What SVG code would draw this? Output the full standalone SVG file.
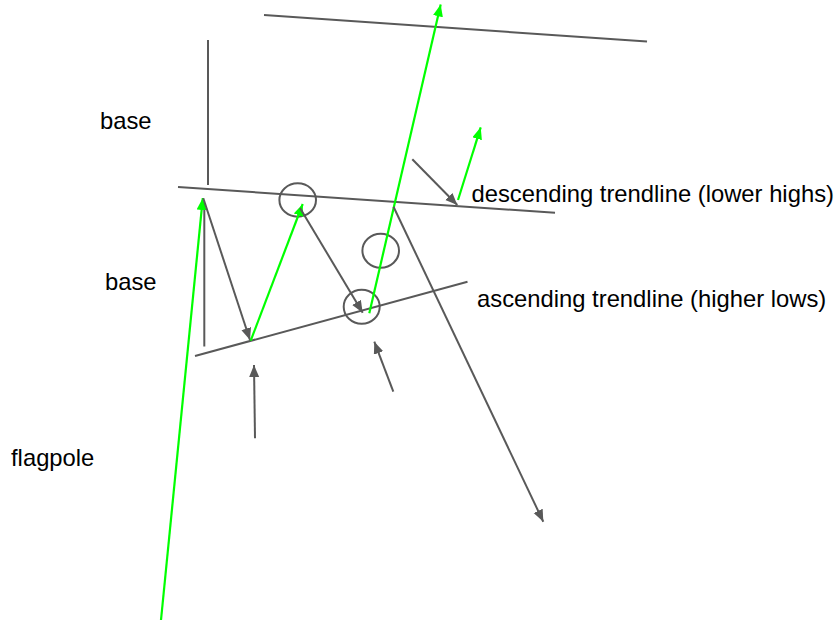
<svg xmlns="http://www.w3.org/2000/svg" width="839" height="624" viewBox="0 0 839 624">
<style>
.g{stroke:#595959;stroke-width:2;fill:none}
.gr{stroke:#00ff00;stroke-width:2.2;fill:none}
.c{stroke:#595959;stroke-width:2;fill:none}
text{font-family:"Liberation Sans",Arial,sans-serif;font-size:23.8px;fill:#000}
</style>
<defs>
<marker id="ag" markerUnits="userSpaceOnUse" markerWidth="14" markerHeight="12" refX="12" refY="5" orient="auto"><path d="M0,0 L12,5 L0,10 z" fill="#595959"/></marker>
<marker id="agr" markerUnits="userSpaceOnUse" markerWidth="14" markerHeight="12" refX="12" refY="5" orient="auto"><path d="M0,0 L12,5 L0,10 z" fill="#00ff00"/></marker>
</defs>
<rect width="839" height="624" fill="#fff"/>
<g id="lines">
<line class="g" x1="264" y1="15" x2="647" y2="41.5"/>
<line class="g" x1="208" y1="40" x2="208" y2="185"/>
<line class="g" x1="178" y1="187" x2="555" y2="212.7"/>
<line class="g" x1="204.3" y1="203" x2="204.3" y2="346.5"/>
<line class="g" x1="195" y1="356" x2="467.5" y2="281.7"/>
</g>
<g id="circles">
<ellipse class="c" cx="297.7" cy="200" rx="18.3" ry="16.7"/>
<ellipse class="c" cx="380.7" cy="250.7" rx="18.3" ry="17"/>
<ellipse class="c" cx="361.7" cy="306.7" rx="18" ry="17"/>
</g>
<g id="connectors">
<line class="gr" x1="161" y1="620" x2="202.8" y2="198" marker-end="url(#agr)"/>
<line class="g" x1="203.3" y1="198.3" x2="250" y2="340" marker-end="url(#ag)"/>
<line class="gr" x1="250.7" y1="340.7" x2="302.7" y2="204" marker-end="url(#agr)"/>
<line class="g" x1="300" y1="208" x2="362.7" y2="312.7" marker-end="url(#ag)"/>
<line class="gr" x1="369.3" y1="313.3" x2="440.7" y2="4.5" marker-end="url(#agr)"/>
<line class="gr" x1="458" y1="200" x2="480.7" y2="127.3" marker-end="url(#agr)"/>
<line class="g" x1="412.3" y1="159.3" x2="457.3" y2="205" marker-end="url(#ag)"/>
<line class="g" x1="393.5" y1="206.7" x2="543.3" y2="521.7" marker-end="url(#ag)"/>
<line class="g" x1="393.3" y1="391.7" x2="374.3" y2="341.7" marker-end="url(#ag)"/>
<line class="g" x1="255" y1="438.3" x2="254" y2="365" marker-end="url(#ag)"/>
</g>
<g id="labels">
<text x="100" y="129">base</text>
<text x="105" y="290">base</text>
<text x="11" y="466">flagpole</text>
<text x="471.5" y="201.5">descending trendline (lower highs)</text>
<text x="477" y="306.7">ascending trendline (higher lows)</text>
</g>
</svg>
